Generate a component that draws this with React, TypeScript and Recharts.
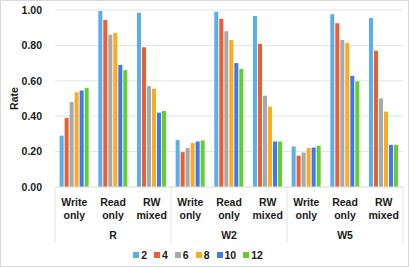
import { BarChart, Bar, XAxis, YAxis, CartesianGrid, Legend } from "recharts";

// categories on the x axis, grouped by workload
const categories = [
  "Write only", "Read only", "RW mixed",
  "Write only", "Read only", "RW mixed",
  "Write only", "Read only", "RW mixed",
];
const groups = ["R", "R", "R", "W2", "W2", "W2", "W5", "W5", "W5"];

// one array per series (thread count), values per category
const s2 = [0.29, 0.995, 0.985, 0.265, 0.99, 0.966, 0.229, 0.976, 0.955];
const s4 = [0.39, 0.944, 0.79, 0.197, 0.951, 0.81, 0.177, 0.925, 0.77];
const s6 = [0.48, 0.86, 0.57, 0.22, 0.88, 0.516, 0.195, 0.83, 0.5];
const s8 = [0.535, 0.87, 0.555, 0.248, 0.83, 0.454, 0.22, 0.814, 0.426];
const s10 = [0.545, 0.69, 0.42, 0.257, 0.7, 0.257, 0.223, 0.628, 0.238];
const s12 = [0.56, 0.66, 0.43, 0.263, 0.666, 0.257, 0.233, 0.597, 0.237];

const seriesNames = ["2", "4", "6", "8", "10", "12"];
const seriesValues = [s2, s4, s6, s8, s10, s12];
const colors = ["#5BAEEA", "#EC5E30", "#A3ABAD", "#FCAB24", "#3F78F0", "#62CF2B"];

const yTicks = [0, 0.2, 0.4, 0.6, 0.8, 1.0];

const data = categories.map((cat, i) => {
  const row: Record<string, string | number> = { cat, group: groups[i], idx: i };
  seriesNames.forEach((n, k) => {
    row["s" + n] = seriesValues[k][i];
  });
  return row;
});

const W = 409;
const H = 267;
const MARGIN = { top: 10, right: 6, left: 0, bottom: 4 };
const YAXIS_W = 55;
const BAND = (W - MARGIN.left - MARGIN.right - YAXIS_W) / categories.length;

const FONT = "'Liberation Sans', Arial, sans-serif";
const GRID = "#e2e6e6";
const TEXT = "#1a1a1a";

function CatTick(props: any) {
  const { x, y, payload } = props;
  const words = String(payload.value).split(" ");
  return (
    <g>
      {words.map((w: string, i: number) => (
        <text
          key={i}
          x={x}
          y={y + 19 + i * 12.5}
          textAnchor="middle"
          fontFamily={FONT}
          fontSize={10.5}
          fontWeight="bold"
          fill={TEXT}
        >
          {w}
        </text>
      ))}
    </g>
  );
}

function GroupTick(props: any) {
  const { x, y, payload, index } = props;
  const top = y - 37;
  const bottom = y + 19;
  return (
    <g>
      {index % 3 === 0 && (
        <line x1={x - BAND / 2} x2={x - BAND / 2} y1={top} y2={bottom} stroke={GRID} />
      )}
      {index === categories.length - 1 && (
        <line x1={x + BAND / 2} x2={x + BAND / 2} y1={top} y2={bottom} stroke={GRID} />
      )}
      {index % 3 === 1 && (
        <text
          x={x}
          y={y + 15}
          textAnchor="middle"
          fontFamily={FONT}
          fontSize={10.5}
          fontWeight="bold"
          fill={TEXT}
        >
          {payload.value}
        </text>
      )}
    </g>
  );
}

function LegendContent() {
  return (
    <div
      style={{
        height: 20,
        position: "relative",
        top: 2,
        display: "flex",
        justifyContent: "center",
        alignItems: "center",
        fontFamily: FONT,
        fontSize: 10.5,
        fontWeight: "bold",
        color: TEXT,
      }}
    >
      {seriesNames.map((n, k) => (
        <span key={n} style={{ display: "inline-flex", alignItems: "center", marginRight: 7 }}>
          <span
            style={{ width: 6, height: 6, background: colors[k], display: "inline-block", marginRight: 2 }}
          />
          {n}
        </span>
      ))}
    </div>
  );
}

export default function App() {
  return (
    <div style={{ position: "absolute", left: 0, top: 0, width: W, height: H, background: "#fff" }}>
      <BarChart
        width={W}
        height={H}
        data={data}
        margin={MARGIN}
        barCategoryGap="12%"
        barGap={1}
      >
        <CartesianGrid vertical={false} stroke={GRID} />
        <XAxis
          dataKey="cat"
          xAxisId="cat"
          height={37}
          interval={0}
          tickLine={false}
          tickSize={0}
          tickMargin={0}
          axisLine={{ stroke: GRID }}
          tick={<CatTick />}
        />
        <XAxis
          dataKey="group"
          xAxisId="grp"
          height={19}
          interval={0}
          tickLine={false}
          tickSize={0}
          tickMargin={0}
          axisLine={false}
          tick={<GroupTick />}
        />
        <YAxis
          width={YAXIS_W}
          domain={[0, 1]}
          ticks={yTicks}
          axisLine={false}
          tickLine={false}
          tickSize={0}
          tickMargin={13}
          tickFormatter={(v: number) => v.toFixed(2)}
          tick={{ fontFamily: FONT, fontSize: 10.5, fontWeight: "bold", fill: TEXT }}
          label={{
            content: ({ viewBox }: any) => {
              const cx = 14;
              const cy = viewBox.y + viewBox.height / 2;
              return (
                <text
                  x={cx}
                  y={cy}
                  transform={`rotate(-90 ${cx} ${cy})`}
                  textAnchor="middle"
                  dominantBaseline="central"
                  fontFamily={FONT}
                  fontSize={10.5}
                  fontWeight="bold"
                  fill={TEXT}
                >
                  Rate
                </text>
              );
            },
          }}
        />
        <Legend verticalAlign="bottom" content={<LegendContent />} />
        {seriesNames.map((n, k) => (
          <Bar
            key={n}
            xAxisId="cat"
            dataKey={"s" + n}
            name={n}
            fill={colors[k]}
            isAnimationActive={false}
          />
        ))}
      </BarChart>
      <div
        style={{
          position: "absolute",
          left: 0,
          top: 0,
          width: W,
          height: H,
          boxSizing: "border-box",
          border: "1px solid #d9d9d9",
          pointerEvents: "none",
        }}
      />
    </div>
  );
}
